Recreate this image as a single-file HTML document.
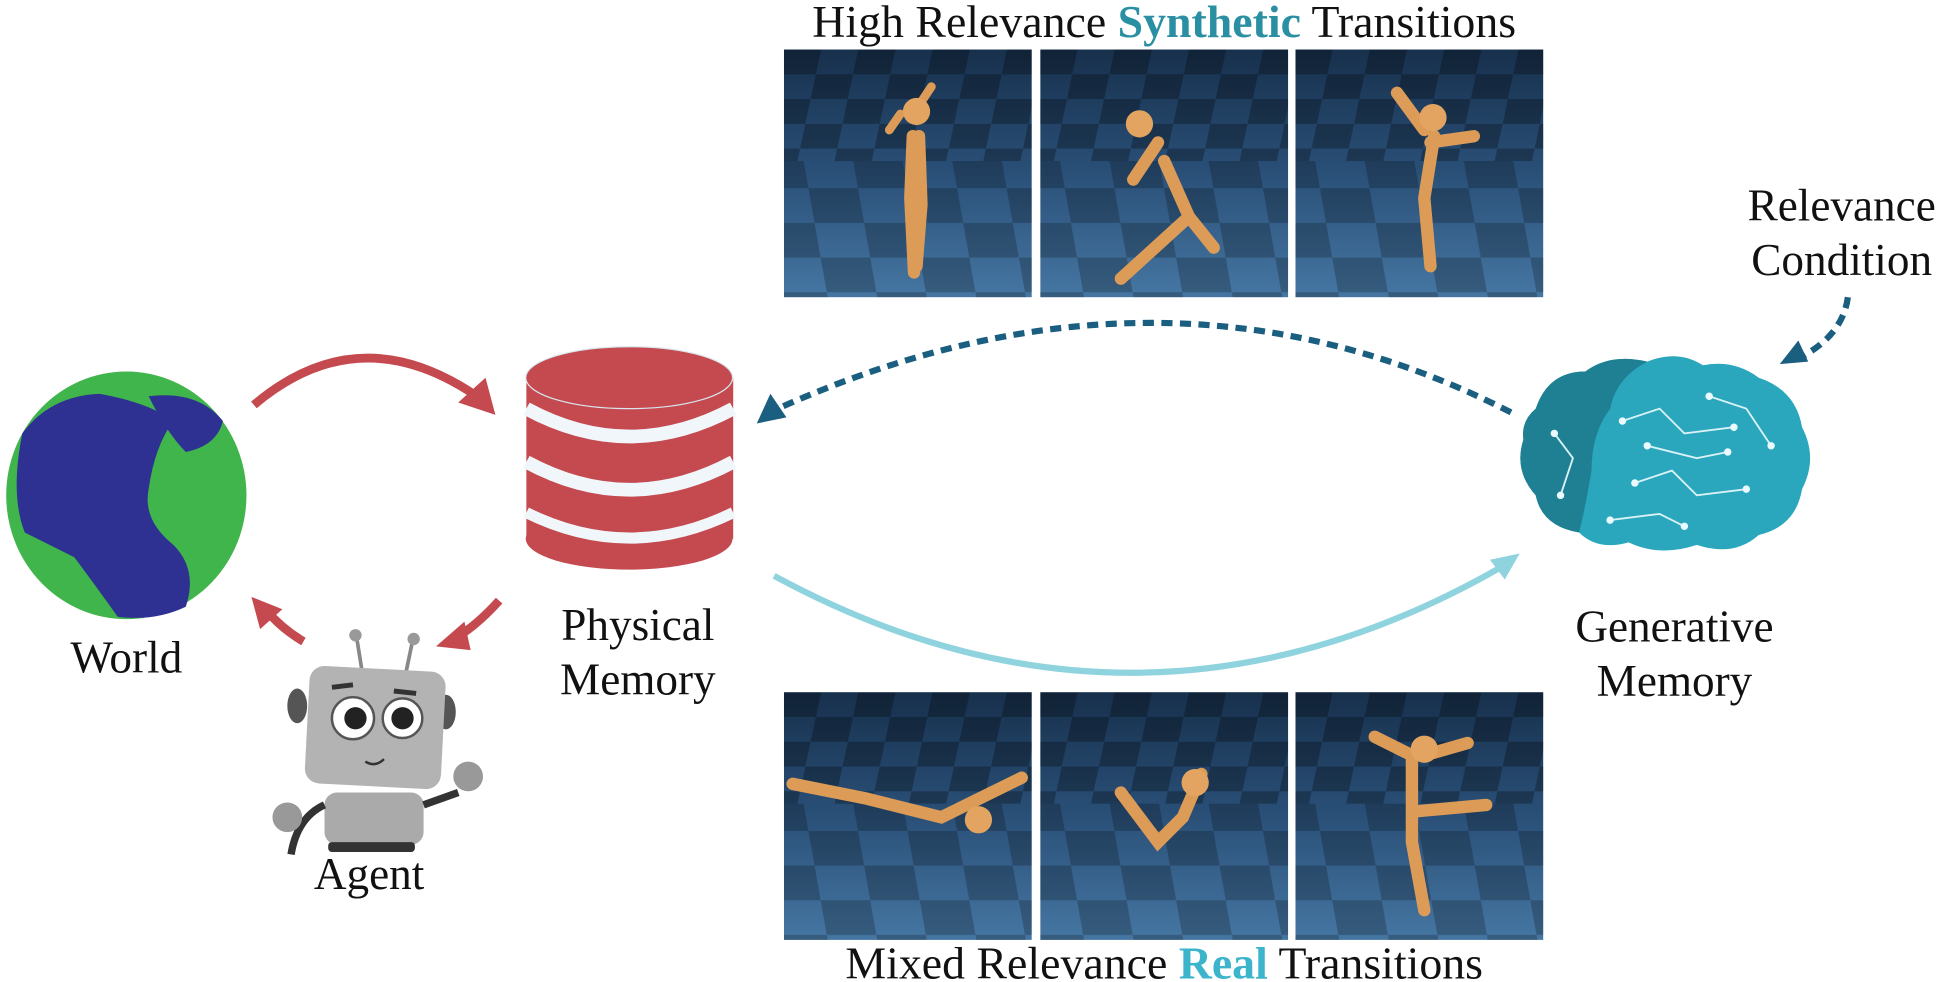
<!DOCTYPE html>
<html><head><meta charset="utf-8"><style>
html,body{margin:0;padding:0;background:#fff;}
svg{display:block;}
text{font-family:"Liberation Serif",serif;fill:#111;}
</style></head><body>
<svg width="1942" height="982" viewBox="0 0 1568 793" preserveAspectRatio="none" xmlns="http://www.w3.org/2000/svg">
<defs>
<linearGradient id="fl" x1="0" y1="0" x2="0" y2="1">
<stop offset="0" stop-color="#17304c"/><stop offset="0.5" stop-color="#2a5078"/><stop offset="1" stop-color="#4576a2"/></linearGradient>
<pattern id="ck" width="60" height="40" patternUnits="userSpaceOnUse" patternTransform="skewX(-12)">
<rect width="30" height="20" fill="#000" opacity="0.28"/><rect x="30" y="20" width="30" height="20" fill="#000" opacity="0.28"/></pattern>
<pattern id="ck2" width="80" height="56" patternUnits="userSpaceOnUse" patternTransform="skewX(10)">
<rect width="40" height="28" fill="#000" opacity="0.22"/><rect x="40" y="28" width="40" height="28" fill="#000" opacity="0.22"/></pattern>
<g id="panel">
<rect width="200" height="200" fill="url(#fl)"/>
<rect width="200" height="90" fill="url(#ck)"/>
<rect y="90" width="200" height="110" fill="url(#ck2)"/>
</g>
</defs>

<!-- titles -->
<text x="940" y="30" font-size="37" text-anchor="middle">High Relevance <tspan font-weight="bold" style="fill:#2b8fa3">Synthetic</tspan> Transitions</text>
<text x="940" y="790" font-size="37" text-anchor="middle">Mixed Relevance <tspan font-weight="bold" style="fill:#3cb5cc">Real</tspan> Transitions</text>

<!-- panels -->
<use href="#panel" x="633" y="40"/><use href="#panel" x="840" y="40"/><use href="#panel" x="1046" y="40"/>
<use href="#panel" x="633" y="559"/><use href="#panel" x="840" y="559"/><use href="#panel" x="1046" y="559"/>

<!-- figures -->
<g stroke="#dc9c58" stroke-linecap="round" fill="none">
<path d="M737,110 L735,160 L738,220 M742,110 L744,165 L740,215" stroke-width="10"/>
<path d="M727,92 L718,105 M742,85 L752,70" stroke-width="7"/>
<path d="M940,130 L960,175 L980,200 M960,175 L905,225 M935,115 L915,145" stroke-width="10"/>
<path d="M1158,110 L1150,160 L1155,215 M1150,105 L1128,75 M1155,115 L1190,110" stroke-width="10"/>
<path d="M640,633 L700,645 L760,660 L825,628" stroke-width="10"/>
<path d="M905,640 L935,680 L955,660 L970,625" stroke-width="10"/>
<path d="M1140,610 L1140,680 L1150,735 M1140,610 L1110,595 M1150,610 L1185,600 M1145,655 L1200,650" stroke-width="10"/>
</g>
<g fill="#e2a460">
<circle cx="740" cy="90" r="11"/><circle cx="920" cy="100" r="11"/><circle cx="1157" cy="95" r="11"/>
<circle cx="790" cy="662" r="11"/><circle cx="965" cy="632" r="11"/><circle cx="1150" cy="605" r="11"/>
</g>

<!-- Relevance condition -->
<text x="1487" y="178" font-size="36.5" text-anchor="middle">Relevance</text>
<text x="1487" y="222" font-size="36.5" text-anchor="middle">Condition</text>
<path d="M1492,240 Q1488,270 1455,288" stroke="#1a5f80" stroke-width="5" fill="none" stroke-dasharray="9,6"/>
<path d="M1437,294 L1452,275 L1460,292 z" fill="#1a5f80"/>

<!-- brain -->
<g>
<path d="M1240,330 Q1250,300 1280,300 Q1300,285 1330,292 Q1355,282 1375,295 Q1400,290 1420,305 Q1450,315 1455,345 Q1468,370 1455,395 Q1450,425 1420,432 Q1400,450 1370,440 Q1340,450 1315,438 Q1290,445 1275,430 Q1245,425 1240,400 Q1222,380 1230,355 Q1228,340 1240,330 z" fill="#2aa6bd"/>
<path d="M1240,330 Q1250,300 1280,300 Q1300,285 1330,292 Q1305,305 1300,330 Q1285,350 1285,380 Q1280,410 1275,430 Q1245,425 1240,400 Q1222,380 1230,355 Q1228,340 1240,330 z" fill="#1f7f93"/>
<g stroke="#d8f2f6" stroke-width="1.5" fill="none">
<path d="M1310,340 L1340,330 L1360,350 L1400,345 M1320,390 L1350,380 L1370,400 L1410,395 M1300,420 L1340,415 L1360,425 M1380,320 L1410,330 L1430,360 M1255,350 L1270,370 L1260,400 M1330,360 L1370,370 L1395,365"/>
</g>
<g fill="#eafaff">
<circle cx="1310" cy="340" r="3"/><circle cx="1400" cy="345" r="3"/><circle cx="1320" cy="390" r="3"/><circle cx="1410" cy="395" r="3"/><circle cx="1300" cy="420" r="3"/><circle cx="1360" cy="425" r="3"/><circle cx="1380" cy="320" r="3"/><circle cx="1430" cy="360" r="3"/><circle cx="1255" cy="350" r="3"/><circle cx="1260" cy="400" r="3"/><circle cx="1395" cy="365" r="3"/><circle cx="1330" cy="360" r="3"/>
</g>
</g>
<text x="1352" y="518" font-size="36.5" text-anchor="middle">Generative</text>
<text x="1352" y="562" font-size="36.5" text-anchor="middle">Memory</text>

<!-- dashed arc -->
<path d="M1220,333 Q940,190 628,330" stroke="#1a5f80" stroke-width="5" fill="none" stroke-dasharray="9,6"/>
<path d="M611,342 L622,318 L635,337 z" fill="#1a5f80"/>

<!-- solid light blue arc -->
<path d="M625,465 Q920,625 1212,458" stroke="#8fd3df" stroke-width="5" fill="none"/>
<path d="M1227,447 L1203,452 L1215,468 z" fill="#8fd3df"/>

<!-- database -->
<g>
<rect x="425" y="305" width="167" height="130" fill="#c44a50"/>
<ellipse cx="508" cy="435" rx="83.5" ry="25" fill="#c44a50"/>
<path d="M425,330 Q508,375 592,330" stroke="#f0f6f9" stroke-width="11" fill="none"/>
<path d="M425,373 Q508,418 592,373" stroke="#f0f6f9" stroke-width="11" fill="none"/>
<path d="M425,414 Q508,455 592,414" stroke="#f0f6f9" stroke-width="9" fill="none"/>
<ellipse cx="508" cy="305" rx="83.5" ry="25" fill="#c44a50" stroke="#d9e6ee" stroke-width="1"/>
</g>
<text x="515" y="517" font-size="36.5" text-anchor="middle">Physical</text>
<text x="515" y="561" font-size="36.5" text-anchor="middle">Memory</text>

<!-- globe -->
<ellipse cx="102" cy="400" rx="97" ry="100" fill="#40b54c"/>
<path d="M18,350 Q40,320 80,318 Q120,325 140,340 Q125,360 120,395 Q115,420 140,440 Q160,460 150,490 Q125,502 95,498 Q75,470 60,450 Q40,440 20,430 Q8,400 18,350 z" fill="#2e3192"/>
<path d="M120,320 Q160,315 180,340 Q175,360 150,365 Q135,350 120,320 z" fill="#2e3192"/>
<text x="102" y="543" font-size="36.5" text-anchor="middle">World</text>

<!-- robot -->
<g>
<line x1="288" y1="515" x2="292" y2="540" stroke="#888" stroke-width="3"/>
<line x1="333" y1="518" x2="328" y2="542" stroke="#888" stroke-width="3"/>
<circle cx="287" cy="513" r="5" fill="#999"/><circle cx="334" cy="516" r="5" fill="#999"/>
<ellipse cx="240" cy="570" rx="8" ry="14" fill="#555"/><ellipse cx="360" cy="575" rx="8" ry="14" fill="#555"/>
<rect x="248" y="540" width="110" height="95" rx="12" fill="#b3b3b3" transform="rotate(3 303 587)"/>
<circle cx="285" cy="580" r="17" fill="#fff" stroke="#555" stroke-width="2"/><circle cx="325" cy="580" r="16" fill="#fff" stroke="#555" stroke-width="2"/>
<circle cx="287" cy="580" r="9" fill="#222"/><circle cx="325" cy="580" r="9" fill="#222"/>
<path d="M268,555 L285,553 M318,558 L336,560" stroke="#333" stroke-width="4"/>
<path d="M295,615 Q303,620 310,613" stroke="#333" stroke-width="2" fill="none"/>
<rect x="262" y="640" width="80" height="42" rx="10" fill="#aaa"/>
<rect x="265" y="680" width="70" height="8" rx="3" fill="#333"/>
<path d="M262,650 Q240,660 235,690 M342,650 L370,640" stroke="#333" stroke-width="6" fill="none"/>
<circle cx="232" cy="660" r="12" fill="#999"/><circle cx="378" cy="627" r="12" fill="#999"/>
</g>
<text x="298" y="718" font-size="36.5" text-anchor="middle">Agent</text>

<!-- red arrows -->
<g stroke="#c44a50" stroke-width="7" fill="none">
<path d="M205,327 Q290,255 385,320"/>
<path d="M403,485 Q385,505 368,515"/>
<path d="M245,518 Q228,508 215,493"/>
</g>
<g fill="#c44a50">
<path d="M400,335 L370,325 L392,305 z"/>
<path d="M352,522 L375,502 L380,525 z"/>
<path d="M203,482 L228,492 L210,508 z"/>
</g>
</svg>
</body></html>
